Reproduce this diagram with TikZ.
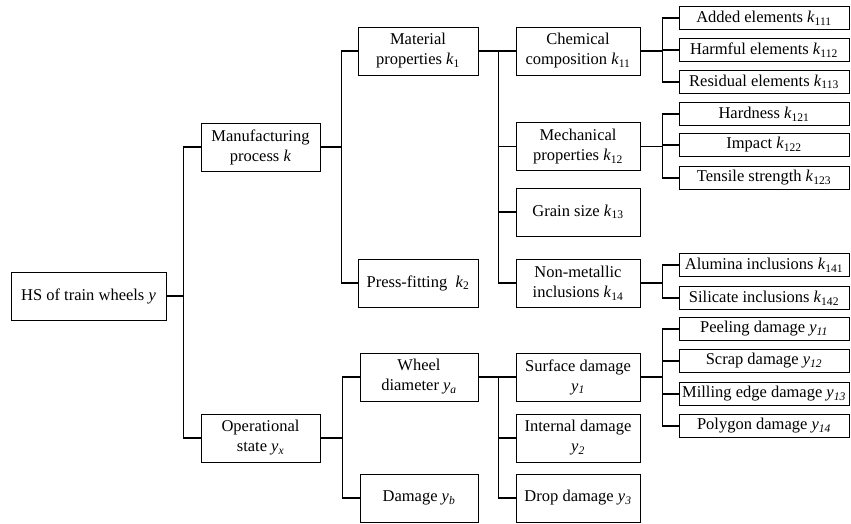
\documentclass[tikz,border=0pt]{standalone}
\usepackage{fontspec}
\setmainfont{Liberation Serif}
\newfontfamily\timesfont{Liberation Serif}
\newcommand{\vk}[1]{\textit{k}\textsubscript{#1}}
\newcommand{\vy}[1]{\textit{y}\textsubscript{\textit{#1}}}
\tikzset{
    mynode/.style = {rectangle, line width=0.9pt, draw=black, align=center, inner sep=1pt, minimum height=48pt},
    mynodel/.style = {rectangle, line width=0.9pt, draw=black, align=center, inner sep=1pt, minimum width=170pt, minimum height=23pt},
    edgen/.style = {line width=1.4pt, black}
}

\begin{document}
\begin{tikzpicture}[x=1pt, y=-1pt, font=\timesfont\fontsize{16.5}{20}\selectfont]
  \useasboundingbox (0,0) rectangle (851,523);

  % levels 0 and 1
  \node[mynode, minimum width=155pt] (root) at (88.5,296) {HS of train wheels \textit{y}};
  \node[mynode, minimum width=119pt] (manu) at (260.5,147) {Manufacturing\\process \textit{k}};
  \node[mynode, minimum width=119pt] (oper) at (260.5,438) {Operational\\state \vy{x}};

  % level 2
  \node[mynode, minimum width=120pt] (mat)   at (418,51)  {Material\\properties \vk{1}};
  \node[mynode, minimum width=120pt] (press) at (418,283) {Press-fitting~ \vk{2}};
  \node[mynode, minimum width=118pt] (wheel) at (419,377) {Wheel\\diameter \vy{a}};
  \node[mynode, minimum width=118pt] (dmg)   at (419,498) {Damage \vy{b}};

  % level 3
  \node[mynode, minimum width=124pt] (chem)   at (578,51)    {Chemical\\composition \vk{11}};
  \node[mynode, minimum width=124pt] (mech)   at (578,146.5) {Mechanical\\properties \vk{12}};
  \node[mynode, minimum width=124pt] (grain)  at (578,212)   {Grain size \vk{13}};
  \node[mynode, minimum width=124pt] (nonm)   at (578,283)   {Non-metallic\\inclusions \vk{14}};
  \node[mynode, minimum width=124pt] (surf)   at (578,377)   {Surface damage\\\vy{1}};
  \node[mynode, minimum width=124pt] (intern) at (578,438)   {Internal damage\\\vy{2}};
  \node[mynode, minimum width=124pt] (drop)   at (578,498)   {Drop damage \vy{3}};

  % level 4
  \node[mynodel] (added)   at (764,18)  {Added elements \vk{111}};
  \node[mynodel] (harm)    at (764,50)  {Harmful elements \vk{112}};
  \node[mynodel] (resid)   at (764,82)  {Residual elements \vk{113}};
  \node[mynodel] (hard)    at (764,114) {Hardness \vk{121}};
  \node[mynodel] (impact)  at (764,145) {Impact \vk{122}};
  \node[mynodel] (tensile) at (764,178) {Tensile strength \vk{123}};
  \node[mynodel] (alum)    at (764,265) {Alumina inclusions \vk{141}};
  \node[mynodel] (silic)   at (764,298) {Silicate inclusions \vk{142}};
  \node[mynodel] (peel)    at (764,329) {Peeling damage \vy{11}};
  \node[mynodel] (scrap)   at (764,361) {Scrap damage \vy{12}};
  \node[mynodel] (mill)    at (764,394) {Milling edge damage \vy{13}};
  \node[mynodel] (poly)    at (764,426) {Polygon damage \vy{14}};

  % connectors
  \draw[edgen] (root.east) -- ++(17,0) |- (manu.west);
  \draw[edgen] (root.east) -- ++(17,0) |- (oper.west);

  \draw[edgen] (manu.east) -- ++(21,0) |- (mat.west);
  \draw[edgen] (manu.east) -- ++(21,0) |- (press.west);
  \draw[edgen] (oper.east) -- ++(22,0) |- (wheel.west);
  \draw[edgen] (oper.east) -- ++(22,0) |- (dmg.west);

  \draw[edgen] (mat.east) -- ++(20,0) |- (chem.west);
  \draw[edgen] (mat.east) -- ++(20,0) |- (mech.west);
  \draw[edgen] (mat.east) -- ++(20,0) |- (grain.west);
  \draw[edgen] (mat.east) -- ++(20,0) |- (nonm.west);
  \draw[edgen] (wheel.east) -- ++(20,0) |- (surf.west);
  \draw[edgen] (wheel.east) -- ++(20,0) |- (intern.west);
  \draw[edgen] (wheel.east) -- ++(20,0) |- (drop.west);

  \draw[edgen] (chem.east) -- ++(22,0) |- (added.west);
  \draw[edgen] (chem.east) -- ++(22,0) |- (harm.west);
  \draw[edgen] (chem.east) -- ++(22,0) |- (resid.west);
  \draw[edgen] (mech.east) -- ++(22,0) |- (hard.west);
  \draw[edgen] (mech.east) -- ++(22,0) |- (impact.west);
  \draw[edgen] (mech.east) -- ++(22,0) |- (tensile.west);
  \draw[edgen] (nonm.east) -- ++(22,0) |- (alum.west);
  \draw[edgen] (nonm.east) -- ++(22,0) |- (silic.west);
  \draw[edgen] (surf.east) -- ++(22,0) |- (peel.west);
  \draw[edgen] (surf.east) -- ++(22,0) |- (scrap.west);
  \draw[edgen] (surf.east) -- ++(22,0) |- (mill.west);
  \draw[edgen] (surf.east) -- ++(22,0) |- (poly.west);
\end{tikzpicture}
\end{document}
